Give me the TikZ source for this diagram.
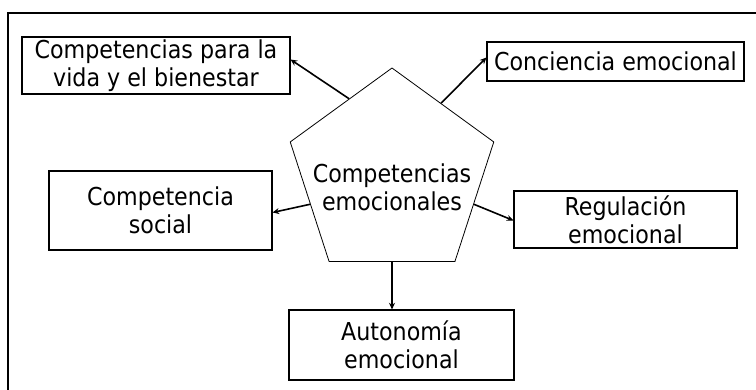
\documentclass[tikz,border=0pt]{standalone}
\usepackage{fontspec}
\setmainfont{DejaVu Sans Condensed}
\usetikzlibrary{calc,shapes.geometric,arrows.meta}
\tikzset{
	caja/.style={draw, line width=0.8pt, inner sep=0pt, align=center, font=\fontsize{18.5}{21}\selectfont},
	flecha/.style={-{Stealth[length=5pt,width=4.5pt]}, line width=1.2pt},
}
\begin{document}
\begin{tikzpicture}[x=0.75pt,y=-0.75pt]
		\useasboundingbox (0,0) rectangle (756,389);
		\clip (0,0) rectangle (756,389);
		\draw[line width=1.2pt] (8,400) -- (8,13) -- (770,13);
		\node[draw, regular polygon, regular polygon sides=5, minimum size=160.5pt, inner sep=0pt, line width=0.6pt] at (392,175) (comp) {};
		\node[align=center, font=\fontsize{18.5}{21}\selectfont] at ([yshift=-9pt]comp.center) (compt) {Competencias\\emocionales};
		\node[caja, minimum width=201pt, minimum height=42.75pt] at (156,65.5) (vida) {Competencias para la\\vida y el bienestar};
		\node[caja, minimum width=192.75pt, minimum height=29.25pt] at (615.5,61.5) (conc) {Conciencia emocional};
		\node[caja, minimum width=167.25pt, minimum height=59.25pt] at (160.5,210.5) (soc) {Competencia\\social};
		\node[caja, minimum width=167.25pt, minimum height=42.75pt] at (625.5,219.5) (reg) {Regulación\\emocional};
		\node[caja, minimum width=168.75pt, minimum height=52.5pt] at (401.5,345) (auto) {Autonomía\\emocional};
		\draw[flecha] ($(comp.corner 1)!0.42!(comp.corner 2)$) -- ($(vida.east)+(0,-6)$);
		\draw[flecha] ($(comp.corner 1)!0.48!(comp.corner 5)$) -- ($(conc.west)+(0,-4)$);
		\draw[flecha] ($(comp.corner 2)!0.52!(comp.corner 3)$) -- ($(soc.east)+(0,2)$);
		\draw[flecha] ($(comp.corner 5)!0.52!(comp.corner 4)$) -- ($(reg.west)+(0,1)$);
		\draw[flecha] (comp.south) -- (comp.south |- auto.north);
\end{tikzpicture}
\end{document}
